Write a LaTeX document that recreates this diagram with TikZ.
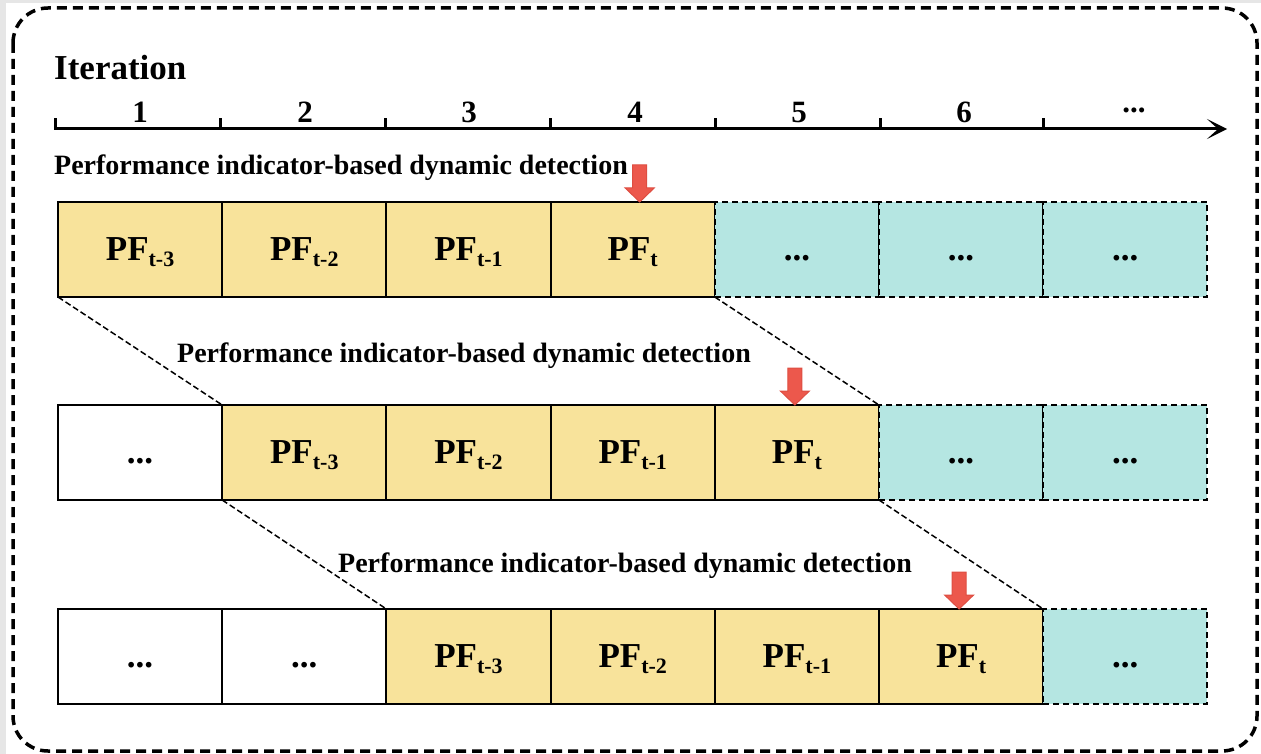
\documentclass[tikz,border=0pt]{standalone}
\usepackage{fontspec}
\setmainfont{Liberation Serif}
\usetikzlibrary{arrows.meta}
\definecolor{cellyellow}{RGB}{248,227,155}
\definecolor{cellteal}{RGB}{181,230,226}
\definecolor{arrowred}{RGB}{236,88,76}
\definecolor{arrowredline}{RGB}{222,78,66}
\definecolor{framegrey}{RGB}{230,230,230}
\newcommand\pfsub[1]{PF\raisebox{-6pt}{\fontsize{22}{22}\selectfont #1}}
\begin{document}
\begin{tikzpicture}[x=1pt,y=-1pt,
  cellbase/.style={minimum width=164.2pt,minimum height=95pt,inner sep=0pt,outer sep=0pt,
    text height=24pt,text depth=2pt,font=\fontsize{35}{35}\selectfont\bfseries},
  yellowcell/.style={cellbase,fill=cellyellow,draw=black,line width=2pt},
  whitecell/.style={cellbase,fill=white,draw=black,line width=2pt},
  tealcell/.style={cellbase,fill=cellteal,draw=black,line width=2pt,dash pattern=on 6pt off 4pt},
  detect/.style={anchor=base west,inner sep=0pt,font=\fontsize{28}{28}\selectfont\bfseries},
  axisnum/.style={anchor=base,inner sep=0pt,font=\fontsize{31}{31}\selectfont\bfseries},
  linkline/.style={line width=1.5pt,dash pattern=on 6pt off 3pt},
  redarrowstyle/.style={fill=arrowred,draw=arrowredline,line width=1pt,line join=miter},
  ticklines/.style={line width=3pt}
]
\useasboundingbox (0,0) rectangle (1261,754);
\fill[framegrey] (0,0) rectangle (1261,754);
\fill[white] (6,3) rectangle (1261,754);
\draw[line width=3.5pt,dash pattern=on 10pt off 6pt,rounded corners=35pt] (13,8) rectangle (1257,751);

% title and axis
\node[anchor=base west,inner sep=0pt,font=\fontsize{35}{35}\selectfont\bfseries] (title) at (54,80) {Iteration};
\coordinate (ax0) at (54,129);
\coordinate (ax1) at (1227,129);
\draw[line width=3pt,-{Stealth[length=20pt,width=20pt,inset=11pt]}] (ax0) -- (ax1);
\foreach \tx in {55,220,385,550,715,880,1043}{
  \draw[ticklines] (\tx,129) -- (\tx,118);
}
\node[axisnum] (n1) at (140,123) {1};
\node[axisnum] (n2) at (305,123) {2};
\node[axisnum] (n3) at (469,123) {3};
\node[axisnum] (n4) at (635,123) {4};
\node[axisnum] (n5) at (799,123) {5};
\node[axisnum] (n6) at (964,123) {6};
\node[axisnum] (n7) at (1134,113) {...};

% detection labels
\node[detect] (d1) at (54,175) {Performance indicator-based dynamic detection};
\node[detect] (d2) at (177,362) {Performance indicator-based dynamic detection};
\node[detect] (d3) at (338,572) {Performance indicator-based dynamic detection};

% row 1
\node[yellowcell] (r1c0) at (140.1,249.5) {\pfsub{t-3}};
\node[yellowcell] (r1c1) at (304.3,249.5) {\pfsub{t-2}};
\node[yellowcell] (r1c2) at (468.5,249.5) {\pfsub{t-1}};
\node[yellowcell] (r1c3) at (632.7,249.5) {\pfsub{t}};
\node[tealcell] (r1c4) at (796.9,249.5) {...};
\node[tealcell] (r1c5) at (961.1,249.5) {...};
\node[tealcell] (r1c6) at (1125.3,249.5) {...};

% row 2
\node[whitecell] (r2c0) at (140.1,452.5) {...};
\node[yellowcell] (r2c1) at (304.3,452.5) {\pfsub{t-3}};
\node[yellowcell] (r2c2) at (468.5,452.5) {\pfsub{t-2}};
\node[yellowcell] (r2c3) at (632.7,452.5) {\pfsub{t-1}};
\node[yellowcell] (r2c4) at (796.9,452.5) {\pfsub{t}};
\node[tealcell] (r2c5) at (961.1,452.5) {...};
\node[tealcell] (r2c6) at (1125.3,452.5) {...};

% row 3
\node[whitecell] (r3c0) at (140.1,656.5) {...};
\node[whitecell] (r3c1) at (304.3,656.5) {...};
\node[yellowcell] (r3c2) at (468.5,656.5) {\pfsub{t-3}};
\node[yellowcell] (r3c3) at (632.7,656.5) {\pfsub{t-2}};
\node[yellowcell] (r3c4) at (796.9,656.5) {\pfsub{t-1}};
\node[yellowcell] (r3c5) at (961.1,656.5) {\pfsub{t}};
\node[tealcell] (r3c6) at (1125.3,656.5) {...};

% connectors between rows
\draw[linkline] (r1c0.south west) -- (r2c1.north west);
\draw[linkline] (r1c3.south east) -- (r2c4.north east);
\draw[linkline] (r2c1.south west) -- (r3c2.north west);
\draw[linkline] (r2c4.south east) -- (r3c5.north east);

% red arrows
\coordinate (a1) at ([xshift=7pt]r1c3.north);
\coordinate (a2) at ([xshift=-2pt]r2c4.north);
\coordinate (a3) at ([xshift=-2pt]r3c5.north);
\foreach \ac in {a1,a2,a3}{
  \draw[redarrowstyle,shift={(\ac)}] (-7,-37) -- (7,-37) -- (7,-14) -- (14.5,-14) -- (0,0) -- (-14.5,-14) -- (-7,-14) -- cycle;
}
\end{tikzpicture}
\end{document}
